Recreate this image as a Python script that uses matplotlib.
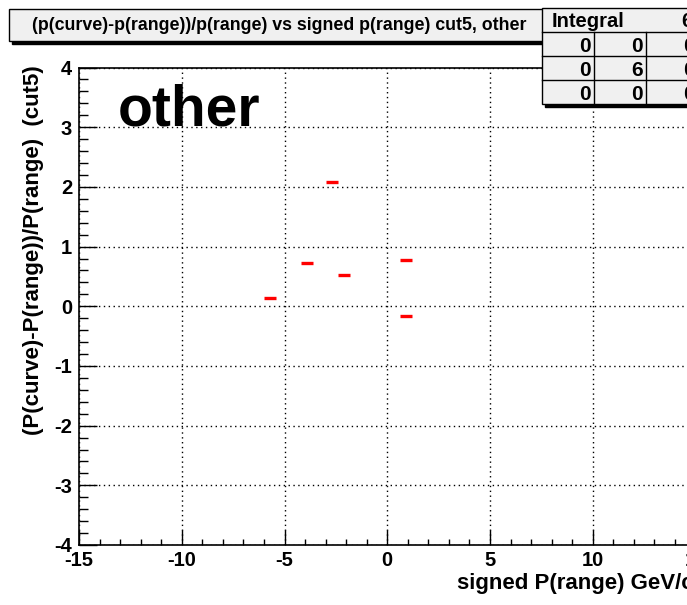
import matplotlib
matplotlib.use("Agg")
import matplotlib.pyplot as plt
from matplotlib.patches import Rectangle
from matplotlib.ticker import MultipleLocator

# Data: profile bins (bin width 0.6) with mean values
bin_width = 0.6
x_centers = [-5.7, -3.9, -2.7, -2.1, 0.9, 0.9]
y_values = [0.13, 0.73, 2.08, 0.525, 0.78, -0.17]

title = "(p(curve)-p(range))/p(range) vs signed p(range) cut5, other"
xlabel = "signed P(range) GeV/c"
ylabel = "(P(curve)-P(range))/P(range)  (cut5)"
stats_header = ["Integral", "6"]
stats_table = [["0", "0", "0"], ["0", "6", "0"], ["0", "0", "0"]]

plt.rcParams['font.family'] = ['Liberation Sans', 'DejaVu Sans']
plt.rcParams['font.weight'] = 'bold'
plt.rcParams['axes.unicode_minus'] = False

W, H = 687, 605
fig = plt.figure(figsize=(W / 100, H / 100), dpi=100)

def fx(px):
    return px / W

def fy(py):
    return 1 - py / H

x0, x1 = -15, 15
y0, y1 = -4, 4
left_px, right_px = 79, 79 + 30 * 20.55
top_px, bot_px = 67.5, 545
ax = fig.add_axes([fx(left_px), fy(bot_px), (right_px - left_px) / W, (bot_px - top_px) / H])
ax.set_xlim(x0, x1)
ax.set_ylim(y0, y1)

ax.xaxis.set_major_locator(MultipleLocator(5))
ax.xaxis.set_minor_locator(MultipleLocator(1))
ax.yaxis.set_major_locator(MultipleLocator(1))
ax.yaxis.set_minor_locator(MultipleLocator(0.2))
ax.tick_params(axis='both', which='both', direction='in', top=False, right=False,
               labelsize=14.5, width=1, color='black')
ax.tick_params(axis='x', which='major', length=11, pad=4.5)
ax.tick_params(axis='x', which='minor', length=4.5)
ax.tick_params(axis='y', which='major', length=13, pad=5)
ax.tick_params(axis='y', which='minor', length=6.5)
for lab in ax.get_xticklabels() + ax.get_yticklabels():
    lab.set_fontweight('bold')
for s in ax.spines.values():
    s.set_linewidth(1.2)
    s.set_color('black')

ax.grid(True, which='major', color='black', linestyle=(0, (1, 2.5)), linewidth=1)
ax.set_axisbelow(True)

xs_l = [x - bin_width / 2 for x in x_centers]
xs_r = [x + bin_width / 2 for x in x_centers]
ax.hlines(y_values, xs_l, xs_r, colors='#ff0000', linewidth=2.4, zorder=5)

ax.text(fx(118), fy(126), "other", transform=fig.transFigure, fontsize=41,
        fontweight='bold', ha='left', va='baseline')

# axis titles
fig.text(fx(457), fy(589), xlabel, fontsize=16, fontweight='bold', ha='left', va='baseline')
fig.text(fx(34), fy(65), ylabel, fontsize=16, fontweight='bold', rotation=90,
         ha='center', va='top')

# title box
tb_l, tb_t, tb_r, tb_b = 9, 9, 548, 41
sh = 3
fig.patches.append(Rectangle((fx(tb_l + sh), fy(tb_b + sh)), (tb_r - tb_l) / W, (tb_b - tb_t) / H,
                             transform=fig.transFigure, facecolor='black', edgecolor='black', zorder=1))
fig.patches.append(Rectangle((fx(tb_l), fy(tb_b)), (tb_r - tb_l) / W, (tb_b - tb_t) / H,
                             transform=fig.transFigure, facecolor='#f0f0f0', edgecolor='black',
                             linewidth=1, zorder=2))
fig.text(fx(279), fy(26), title, fontsize=12.8, fontweight='bold',
         ha='center', va='center', zorder=3)

# stats box
sb_l, sb_t, sb_r = 542, 8, 698
rows_y = [8, 32, 56, 80, 104]
cols_x = [542, 594, 646, 698]
fig.patches.append(Rectangle((fx(sb_l + sh), fy(rows_y[-1] + sh)), (sb_r - sb_l) / W,
                             (rows_y[-1] - sb_t) / H, transform=fig.transFigure,
                             facecolor='black', edgecolor='black', zorder=4))
fig.patches.append(Rectangle((fx(sb_l), fy(rows_y[-1])), (sb_r - sb_l) / W, (rows_y[-1] - sb_t) / H,
                             transform=fig.transFigure, facecolor='#f0f0f0', edgecolor='black',
                             linewidth=1, zorder=5))
for yy in rows_y[1:-1]:
    fig.add_artist(plt.Line2D([fx(sb_l), fx(sb_r)], [fy(yy), fy(yy)], transform=fig.transFigure,
                              color='black', linewidth=1, zorder=6))
for xx in cols_x[1:-1]:
    fig.add_artist(plt.Line2D([fx(xx), fx(xx)], [fy(rows_y[1]), fy(rows_y[-1])],
                              transform=fig.transFigure, color='black', linewidth=1, zorder=6))
fig.text(fx(sb_l + 10), fy(27), stats_header[0], fontsize=14.5, fontweight='bold',
         ha='left', va='baseline', zorder=7)
fig.text(fx(sb_r - 6), fy(27), stats_header[1], fontsize=14.5, fontweight='bold',
         ha='right', va='baseline', zorder=7)
for r, row in enumerate(stats_table):
    ybase = rows_y[r + 2] - 4
    for c, val in enumerate(row):
        fig.text(fx(cols_x[c + 1] - 3), fy(ybase), val, fontsize=15, fontweight='bold',
                 ha='right', va='baseline', zorder=7)

fig.savefig("out.png", dpi=100)
